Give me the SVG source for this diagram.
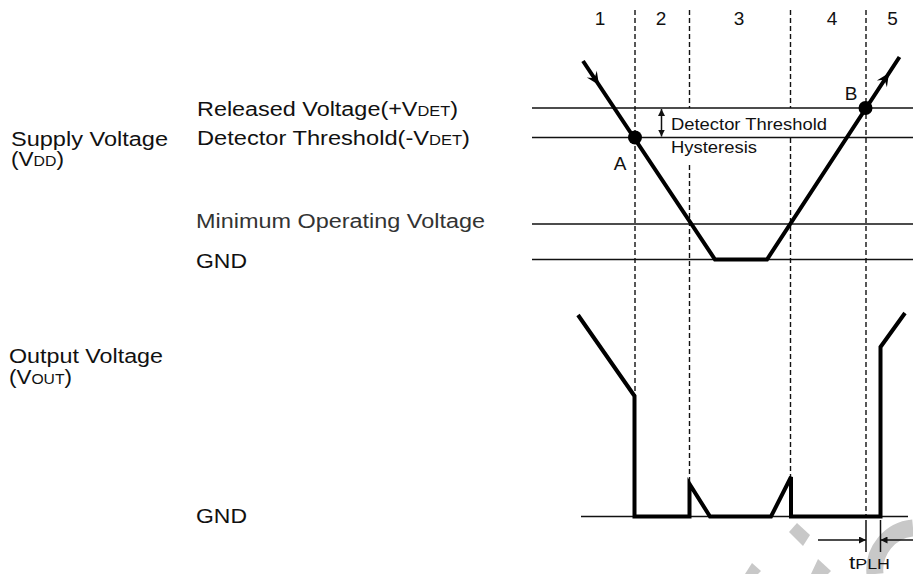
<svg xmlns="http://www.w3.org/2000/svg" width="913" height="574" viewBox="0 0 913 574">
<style>
text{font-family:"Liberation Sans",Arial,sans-serif;fill:#111}
.lbl{font-size:20px}
.sm{font-size:16px}
.num{font-size:19px;text-anchor:middle}
.thin{stroke:#111;stroke-width:1.5;fill:none}
.thick{stroke:#000;stroke-width:4;fill:none;stroke-linejoin:miter;stroke-linecap:butt}
.dash{stroke:#111;stroke-width:1.4;stroke-dasharray:5 3;fill:none}
.wm{fill:#c8c8c8}
</style>
<defs>
<marker id="ah" viewBox="0 0 10 10" refX="10" refY="5" markerWidth="7" markerHeight="7" markerUnits="userSpaceOnUse" orient="auto-start-reverse">
<path d="M0,0 L10,5 L0,10 Z" fill="#111"/>
</marker>
<path id="barb" d="M0,0 L-13,-6 L-8,0 L-13,6 Z" fill="#000"/>
</defs>

<g id="watermark">
<polygon class="wm" points="797,523 810,535 803,546 789,532"/>
<polygon class="wm" points="818,559 831,571 828,574 811,574"/>
<polygon class="wm" points="752,563 761,571 758,574 745,574"/>
<path d="M875,574 A42,42 0 0 1 913,528" stroke="#c8c8c8" stroke-width="17" fill="none"/>
</g>

<g id="levels">
<line class="thin" x1="532" y1="108" x2="913" y2="108"/>
<line class="thin" x1="532" y1="137.5" x2="913" y2="137.5"/>
<line class="thin" x1="532" y1="224" x2="913" y2="224"/>
<line class="thin" x1="532" y1="259.5" x2="913" y2="259.5"/>
<line class="thin" x1="581" y1="516.5" x2="908" y2="516.5"/>
</g>

<g id="phase-dividers">
<line class="dash" x1="635" y1="10" x2="635" y2="396"/>
<line class="dash" x1="689.5" y1="10" x2="689.5" y2="108"/>
<line class="dash" x1="689.5" y1="165" x2="689.5" y2="484"/>
<line class="dash" x1="790.5" y1="10" x2="790.5" y2="108"/>
<line class="dash" x1="790.5" y1="138" x2="790.5" y2="477"/>
<line class="dash" x1="866" y1="10" x2="866" y2="517"/>
</g>

<g id="phase-numbers">
<text class="num" x="600" y="25">1</text>
<text class="num" x="661" y="25">2</text>
<text class="num" x="739" y="25">3</text>
<text class="num" x="832" y="25">4</text>
<text class="num" x="892.5" y="25">5</text>
</g>

<g id="labels">
<text class="lbl" x="11" y="146" textLength="157" lengthAdjust="spacingAndGlyphs">Supply Voltage</text>
<text class="lbl" x="11" y="166" textLength="53" lengthAdjust="spacingAndGlyphs">(V<tspan font-size="14">DD</tspan>)</text>
<text class="lbl" x="197" y="116" textLength="261" lengthAdjust="spacingAndGlyphs">Released Voltage(+V<tspan font-size="14">DET</tspan>)</text>
<text class="lbl" x="197" y="145" textLength="273" lengthAdjust="spacingAndGlyphs">Detector Threshold(-V<tspan font-size="14">DET</tspan>)</text>
<text class="lbl" x="196" y="228" textLength="289" lengthAdjust="spacingAndGlyphs" style="fill:#333">Minimum Operating Voltage</text>
<text class="lbl" x="196" y="268" textLength="51" lengthAdjust="spacingAndGlyphs">GND</text>
<text class="lbl" x="9" y="363" textLength="154" lengthAdjust="spacingAndGlyphs">Output Voltage</text>
<text class="lbl" x="9" y="384" textLength="63" lengthAdjust="spacingAndGlyphs">(V<tspan font-size="14">OUT</tspan>)</text>
<text class="lbl" x="196" y="523" textLength="51" lengthAdjust="spacingAndGlyphs">GND</text>
</g>

<g id="hysteresis">
<line class="thin" x1="661.5" y1="109" x2="661.5" y2="136.5" marker-start="url(#ah)" marker-end="url(#ah)" stroke-width="1.3"/>
<text class="sm" x="671" y="130" textLength="156" lengthAdjust="spacingAndGlyphs">Detector Threshold</text>
<text class="sm" x="671" y="152.5" textLength="86" lengthAdjust="spacingAndGlyphs">Hysteresis</text>
</g>

<g id="supply-waveform">
<polyline class="thick" points="583,61 715,259.5 767,259.5 899.5,57"/>
<use href="#barb" transform="translate(599,85) rotate(56.3)"/>
<use href="#barb" transform="translate(889,73) rotate(-56.8)"/>
</g>

<g id="point-A">
<circle cx="635" cy="137.5" r="7" fill="#000"/>
<text class="num" x="620" y="169.5">A</text>
</g>
<g id="point-B">
<circle cx="865.5" cy="108" r="7" fill="#000"/>
<text class="num" x="851" y="99.5">B</text>
</g>

<g id="output-waveform">
<polyline class="thick" points="578,315 634.5,396 634.5,516.5 689.5,516.5 689.5,484 710,516.5 771,516.5 791,477 791,516.5 880.5,516.5 880.5,347 905,313"/>
</g>

<g id="tplh">
<line class="thin" x1="866" y1="520" x2="866" y2="552" stroke-width="1.3"/>
<line class="thin" x1="880.5" y1="520" x2="880.5" y2="552" stroke-width="1.3"/>
<line class="thin" x1="818" y1="540" x2="866" y2="540" marker-end="url(#ah)" stroke-width="1.3"/>
<line class="thin" x1="913" y1="540" x2="880.5" y2="540" marker-end="url(#ah)" stroke-width="1.3"/>
<text x="849" y="569" font-size="19" textLength="41" lengthAdjust="spacingAndGlyphs">t<tspan font-size="15">PLH</tspan></text>
</g>
</svg>
